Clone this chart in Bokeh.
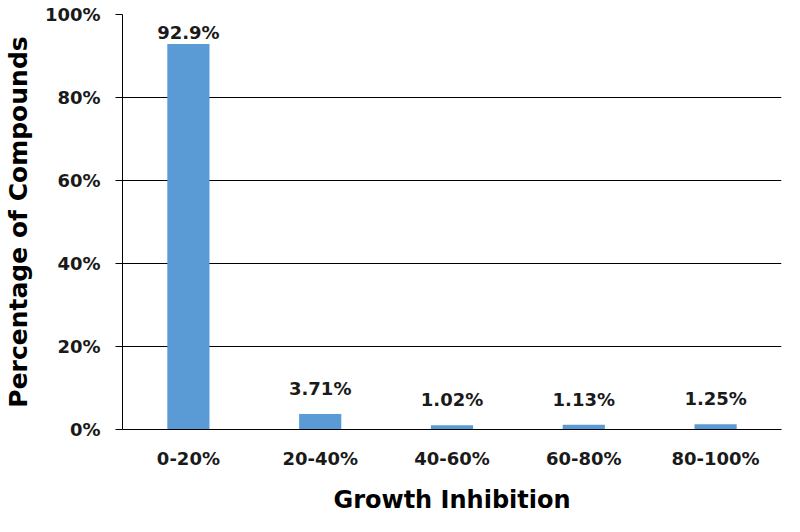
from bokeh.plotting import figure
from bokeh.models import ColumnDataSource, FactorRange, Range1d, PrintfTickFormatter, FixedTicker
from bokeh.core.properties import value
from bokeh.embed import file_html
from bokeh.resources import INLINE

categories = ["0-20%", "20-40%", "40-60%", "60-80%", "80-100%"]
percentages = [92.9, 3.71, 1.02, 1.13, 1.25]
label_texts = [f"{v}%" for v in percentages]
y_ticks = [0, 20, 40, 60, 80, 100]

FONT = "DejaVu Sans"
BAR = "#5B9BD5"

p = figure(width=784, height=516, x_range=FactorRange(*categories, range_padding=0),
           y_range=Range1d(0, 100), output_backend="svg", toolbar_location=None,
           min_border_left=119, min_border_right=3, min_border_top=14, min_border_bottom=86)
p.outline_line_color = None
p.background_fill_color = "white"

src = ColumnDataSource(dict(cat=categories, val=percentages, lab=label_texts,
                            off=[-1, -15, -15, -15, -15]))
p.vbar(x="cat", top="val", width=0.32, source=src, fill_color=BAR, line_color=None)
p.text(x="cat", y="val", text="lab", source=src, y_offset="off",
       text_font=value(FONT), text_font_style="bold", text_font_size="18px",
       text_align="center", text_baseline="bottom", text_color="#1a1a1a")

p.xgrid.grid_line_color = None
p.ygrid.grid_line_color = "black"
p.ygrid.grid_line_width = 1
p.ygrid.ticker = FixedTicker(ticks=y_ticks)

p.yaxis.ticker = FixedTicker(ticks=y_ticks)
p.yaxis.formatter = PrintfTickFormatter(format="%d%%")
p.yaxis.axis_label = "Percentage of Compounds"
p.yaxis.axis_label_text_font = FONT
p.yaxis.axis_label_text_font_style = "bold"
p.yaxis.axis_label_text_font_size = "25px"
p.yaxis.axis_label_text_color = "black"
p.yaxis.axis_label_standoff = 9
p.yaxis.major_label_text_font = FONT
p.yaxis.major_label_text_font_style = "bold"
p.yaxis.major_label_text_font_size = "18px"
p.yaxis.major_label_text_color = "#1a1a1a"
p.yaxis.major_label_standoff = 15
p.yaxis.major_tick_out = 7
p.yaxis.major_tick_in = 0
p.yaxis.minor_tick_line_color = None
p.yaxis.axis_line_color = "black"
p.yaxis.major_tick_line_color = "black"

p.xaxis.axis_label = "Growth Inhibition"
p.xaxis.axis_label_text_font = FONT
p.xaxis.axis_label_text_font_style = "bold"
p.xaxis.axis_label_text_font_size = "24px"
p.xaxis.axis_label_text_color = "black"
p.xaxis.axis_label_standoff = 14
p.xaxis.major_label_text_font = FONT
p.xaxis.major_label_text_font_style = "bold"
p.xaxis.major_label_text_font_size = "18px"
p.xaxis.major_label_text_color = "#1a1a1a"
p.xaxis.major_label_standoff = 18
p.xaxis.major_tick_out = 0
p.xaxis.major_tick_in = 0
p.xaxis.axis_line_color = "black"

open("out.html", "w").write(file_html(p, INLINE))
